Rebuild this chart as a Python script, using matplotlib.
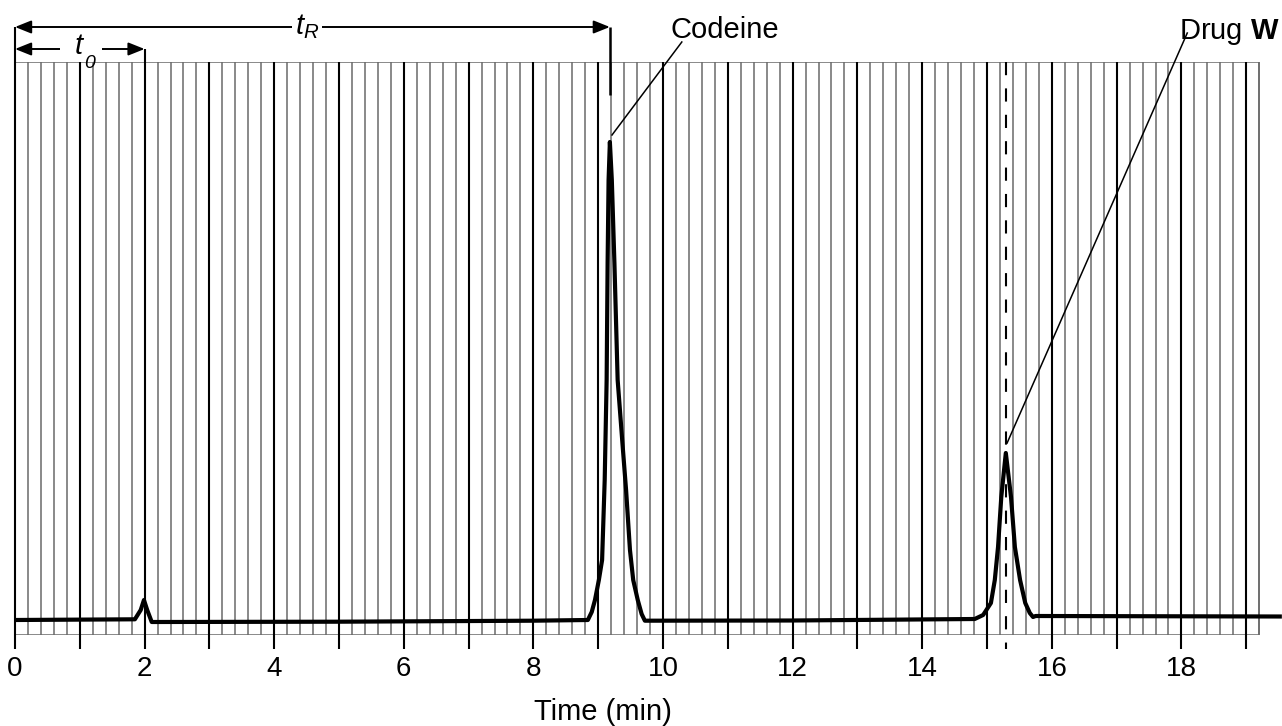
import matplotlib
matplotlib.use("Agg")
import matplotlib.pyplot as plt
import numpy as np

plt.rcParams['font.family'] = ['Liberation Sans', 'DejaVu Sans']
plt.rcParams['mathtext.fontset'] = 'custom'
plt.rcParams['mathtext.it'] = 'Liberation Sans:italic'
plt.rcParams['mathtext.rm'] = 'Liberation Sans'
plt.rcParams['mathtext.bf'] = 'Liberation Sans:bold'
plt.rcParams['lines.scale_dashes'] = False

# ---- data (time in min, detector signal in arbitrary units) ----
time = [0.00, 1.85, 1.94, 1.99, 2.04, 2.11, 5.00, 8.00, 8.84, 8.90, 8.95, 8.98, 9.01, 9.06,
        9.10, 9.13, 9.145, 9.16, 9.18, 9.21, 9.25, 9.30, 9.37, 9.43, 9.49, 9.54, 9.61, 9.67,
        9.72, 12.00, 14.81, 14.94, 15.06, 15.12, 15.17, 15.22, 15.29, 15.37, 15.43,
        15.51, 15.59, 15.66, 15.71, 15.75, 19.55]
signal = [0.00, 0.07, 1.00, 2.00, 1.00, -0.20, -0.17, -0.07, 0.00, 0.80, 2.00, 3.00, 4.00, 6.00,
          14.0, 24.0, 35.7, 44.0, 47.8, 44.0, 35.7, 24.0, 18.0, 13.0, 7.00, 4.00, 2.00, 0.60,
          -0.07, -0.05, 0.10, 0.50, 1.70, 4.00, 7.30, 12.3, 16.7, 12.3, 7.30,
          4.00, 1.70, 0.70, 0.30, 0.40, 0.35]

t0 = 2.0
tR = 9.18
t_drugW = 15.3
peak_labels = ["Codeine", r"Drug $\mathbf{W}$"]
x_ticks = list(range(0, 20))
x_ticklabels = [str(v) if v % 2 == 0 else "" for v in x_ticks]

W, H = 1282, 726
fig = plt.figure(figsize=(W / 100, H / 100), dpi=100)
ax = fig.add_axes([15 / W, 91 / H, 1 - 15 / W, 573 / H])
ymin, ymax = -1.5, 55.8
grid_end = 19.2
ax.set_xlim(0, 19.552)
ax.set_ylim(ymin, ymax)
for s in ax.spines.values():
    s.set_visible(False)
ax.set_yticks([])

# grid box
minor = [v for v in np.round(np.arange(0, grid_end + 0.001, 0.2), 2) if abs(v - round(v)) > 1e-6]
gray = '#6a6a6a'
ax.vlines(minor, ymin, ymax, colors=gray, lw=1.1, zorder=1)
ax.vlines([grid_end], ymin, ymax, colors=gray, lw=1.1, zorder=1)
ax.hlines([ymin, ymax], 0, grid_end, colors=gray, lw=1.1, zorder=1)
ints = [v for v in x_ticks if v not in (0, 2)]
ax.vlines(ints, ymin, ymax, colors='k', lw=1.5, zorder=2)
ax.vlines([0], ymin, 59.3, colors='k', lw=1.5, zorder=2, clip_on=False)
ax.vlines([t0], ymin, 57.1, colors='k', lw=1.5, zorder=2, clip_on=False)

# ticks
ax.set_xticks(x_ticks)
ax.set_xticklabels(x_ticklabels)
ax.tick_params(axis='x', length=10, width=1.5, direction='out', labelsize=20, pad=5, colors='k')
ax.set_xlabel("Time (min)", fontsize=21, labelpad=12)
ax.xaxis.label.set_x(9.07 / 19.552)

# dashed line at drug W
ax.plot([t_drugW, t_drugW], [ymax, -2.9], color='k', lw=1.5, ls=(0, (9.5, 9.5)),
        clip_on=False, zorder=3)

# chromatogram
ax.plot(time, signal, color='k', lw=3.0, solid_joinstyle='round', solid_capstyle='butt',
        zorder=4, clip_on=False)

# t_R and t_0 arrows
arrow = dict(arrowstyle='<|-|>,head_length=0.7,head_width=0.28', lw=1.4, color='k',
             mutation_scale=14, shrinkA=0, shrinkB=0)
ax.annotate('', xy=(0, 59.3), xytext=(tR, 59.3), arrowprops=arrow, annotation_clip=False)
ax.vlines([tR], 52.5, 59.3, colors='k', lw=1.8, clip_on=False)
ax.annotate('', xy=(0, 57.1), xytext=(t0, 57.1), arrowprops=arrow, annotation_clip=False)
ax.text(4.5, 59.3, r'$t_R$', fontsize=21, ha='center', va='center',
        bbox=dict(facecolor='white', edgecolor='none', pad=2), clip_on=False, zorder=5)
# t_0 : white gap, italic t with italic subscript 0
ax.hlines([57.1], 0.70, 1.35, colors='white', lw=4, clip_on=False, zorder=5)
ax.text(0.98, 57.4, 't', fontsize=21, fontstyle='italic', ha='center', va='center',
        clip_on=False, zorder=6)
ax.text(1.06, 55.6, '0', fontsize=14, fontstyle='italic', ha='left', va='center',
        clip_on=False, zorder=6)

# peak labels
ax.plot([9.213, 10.29], [48.5, 57.8], color='k', lw=1.1, clip_on=False, zorder=5)
ax.text(10.11, 59.0, peak_labels[0], fontsize=21, ha='left', va='center', clip_on=False)
ax.plot([15.31, 18.09], [17.7, 58.7], color='k', lw=1.1, clip_on=False, zorder=5)
ax.text(19.52, 58.8, peak_labels[1], fontsize=21, ha='right', va='center', clip_on=False)

fig.savefig("out.png", dpi=100)
